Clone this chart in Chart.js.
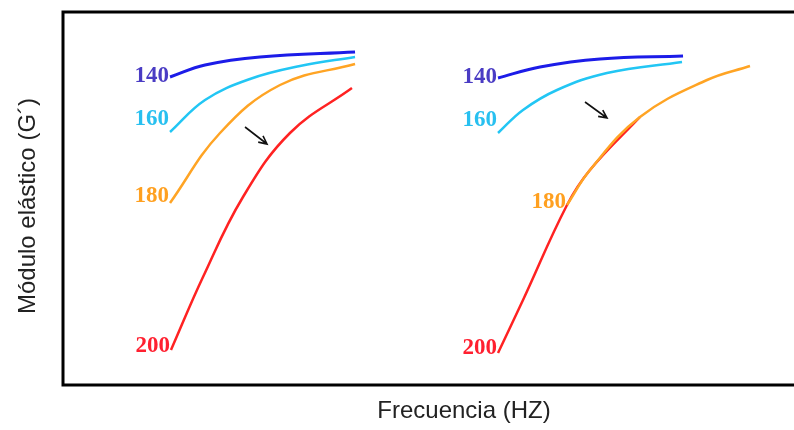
<!DOCTYPE html>
<html>
<head>
<meta charset="utf-8">
<script src="https://cdn.jsdelivr.net/npm/chart.js@4.4.1/dist/chart.umd.min.js"></script>
<style>
  html, body { margin: 0; padding: 0; background: #fff; }
  #wrap { width: 794px; height: 430px; }
</style>
</head>
<body>
<div id="wrap"><canvas id="moduloChart" width="794" height="430"></canvas></div>
<script>
// G' vs frequency, two panels of curves at 140/160/180/200
const tempLabels = ['140', '160', '180', '200'];

// left group
const l140X = [14.64, 19.43, 26.95, 39.95];
const l140Y = [82.57, 85.79, 87.94, 89.28];
const l160X = [14.64, 19.43, 25.58, 32.42, 39.95];
const l160Y = [67.83, 76.41, 82.04, 85.52, 87.94];
const l180X = [14.64, 21.48, 29.69, 39.95];
const l180Y = [48.79, 67.56, 80.43, 86.06];
const l200X = [14.77, 19.15, 24.62, 31.05, 39.53];
const l200Y = [9.38, 28.95, 50.40, 67.56, 79.62];

// right group
const r140X = [59.51, 65.25, 73.46, 84.82];
const r140Y = [82.31, 85.25, 87.40, 88.20];
const r160X = [59.51, 62.93, 67.58, 74.42, 84.68];
const r160Y = [67.56, 73.73, 79.09, 83.65, 86.60];
const r180X = [68.95, 72.09, 78.93, 88.10, 93.98];
const r180Y = [48.26, 57.64, 71.85, 81.77, 85.52];
const r200X = [59.51, 62.93, 68.95, 72.09, 78.93];
const r200Y = [8.58, 22.79, 48.26, 57.64, 71.85];

// arrows: [x0, y0, x1, y1] in axis units
const arrows = [
  [24.90, 69.17, 27.91, 64.61],
  [71.41, 75.87, 74.42, 71.58]
];

const lineColors = ['#1c1ce8', '#22c6f4', '#ffa424', '#ff2222'];
const labelColors = ['#4a3cc4', '#28c0f0', '#ffa020', '#ff2030'];

function pts(xs, ys) {
  return xs.map((x, i) => ({ x: x, y: ys[i] }));
}

function series(xs, ys, t, order) {
  return {
    label: tempLabels[t],
    data: pts(xs, ys),
    borderColor: lineColors[t],
    borderWidth: t === 0 ? 3 : 2.5,
    pointRadius: 0,
    tension: 0.4,
    fill: false,
    order: order,
    temp: t
  };
}

// label placement tweaks (px) relative to curve start
const labelDy = [-1, -13, -7, -4];
const labelDyRight = [-1, -13, -3, -5];

const framePlugin = {
  id: 'frame',
  afterDatasetsDraw(chart) {
    const ctx = chart.ctx;
    const a = chart.chartArea;
    const xs = chart.scales.x, ys = chart.scales.y;
    ctx.save();

    // box
    ctx.strokeStyle = '#000';
    ctx.lineWidth = 3;
    ctx.beginPath();
    ctx.moveTo(a.right + 5, a.top);
    ctx.lineTo(a.left, a.top);
    ctx.lineTo(a.left, a.bottom);
    ctx.lineTo(a.right + 5, a.bottom);
    ctx.stroke();

    // temperature labels next to the start of each curve
    ctx.font = 'bold 23px "Liberation Serif", "Times New Roman", serif';
    ctx.textAlign = 'right';
    ctx.textBaseline = 'middle';
    chart.data.datasets.forEach(ds => {
      const p = ds.data[0];
      const t = ds.temp;
      const dy = ds.right ? labelDyRight[t] : labelDy[t];
      ctx.fillStyle = labelColors[t];
      ctx.fillText(ds.label, xs.getPixelForValue(p.x) - 1, ys.getPixelForValue(p.y) + dy);
    });

    // arrows
    ctx.strokeStyle = '#111';
    ctx.lineWidth = 1.6;
    arrows.forEach(ar => {
      const x0 = xs.getPixelForValue(ar[0]), y0 = ys.getPixelForValue(ar[1]);
      const x1 = xs.getPixelForValue(ar[2]), y1 = ys.getPixelForValue(ar[3]);
      const ang = Math.atan2(y1 - y0, x1 - x0);
      const h = 9;
      ctx.beginPath();
      ctx.moveTo(x0, y0);
      ctx.lineTo(x1, y1);
      ctx.moveTo(x1 - h * Math.cos(ang - 0.45), y1 - h * Math.sin(ang - 0.45));
      ctx.lineTo(x1, y1);
      ctx.lineTo(x1 - h * Math.cos(ang + 0.45), y1 - h * Math.sin(ang + 0.45));
      ctx.stroke();
    });

    // axis titles
    ctx.fillStyle = '#222';
    ctx.textAlign = 'center';
    ctx.textBaseline = 'middle';
    ctx.font = '24px "Liberation Sans", Arial, sans-serif';
    ctx.fillText('Frecuencia (HZ)', 464, 411);
    ctx.translate(28, 206);
    ctx.rotate(-Math.PI / 2);
    ctx.fillText('Módulo elástico (G´)', 0, 0);
    ctx.restore();
  }
};

const leftSets = [
  series(l140X, l140Y, 0, 0),
  series(l160X, l160Y, 1, 1),
  series(l180X, l180Y, 2, 2),
  series(l200X, l200Y, 3, 3)
];
const rightSets = [
  series(r140X, r140Y, 0, 0),
  series(r160X, r160Y, 1, 1),
  series(r180X, r180Y, 2, 2),
  series(r200X, r200Y, 3, 3)
];
rightSets.forEach(ds => { ds.right = true; });

let moduloChart = new Chart(document.getElementById('moduloChart'), {
  type: 'line',
  data: { datasets: leftSets.concat(rightSets) },
  options: {
    responsive: false,
    animation: false,
    layout: { padding: { left: 63, top: 12, right: 0, bottom: 45 } },
    plugins: { legend: { display: false }, tooltip: { enabled: false } },
    scales: {
      x: { type: 'linear', min: 0, max: 100, display: false },
      y: { type: 'linear', min: 0, max: 100, display: false }
    }
  },
  plugins: [framePlugin]
});
</script>
</body>
</html>
